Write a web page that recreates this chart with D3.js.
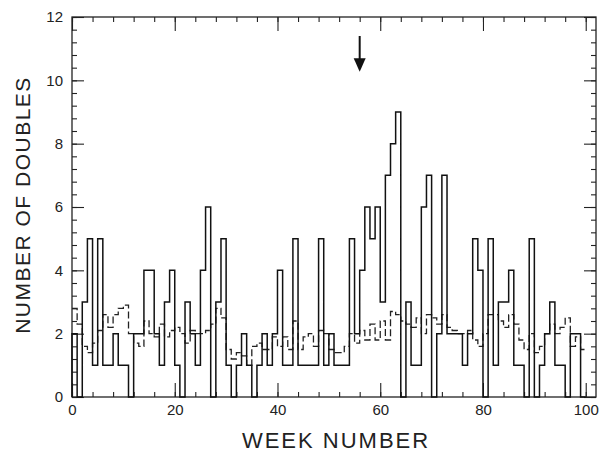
<!DOCTYPE html>
<html>
<head>
<meta charset="utf-8">
<script src="https://cdn.jsdelivr.net/npm/d3@7"></script>
<style>
  body { margin: 0; background: #fff; }
  text { font-family: "Liberation Sans", Arial, sans-serif; fill: #222; }
</style>
</head>
<body>
<svg id="chart" width="600" height="460"></svg>
<script>
// weekly number of doubles (solid) and expected level (dashed), one bin per week
const doubles = [
  2, 0, 3, 5, 1, 5, 1, 1, 2, 1, 1, 0, 2, 2, 4, 4, 2, 1, 3, 4,
  1, 0, 3, 2, 1, 4, 6, 0, 3, 5, 1, 0, 1, 2, 1, 0, 1, 2, 1, 2,
  4, 1, 1, 5, 1, 1, 1, 1, 5, 1, 2, 1, 1, 1, 5, 2, 4, 6, 5, 6,
  3, 7, 8, 9, 0, 3, 1, 1, 6, 7, 0, 2, 7, 2, 2, 2, 1, 2, 5, 4,
  0, 5, 1, 3, 3, 4, 1, 1, 0, 5, 0, 1, 2, 3, 1, 1, 0, 2, 2, 0
];
const expected = [
  2.8, 2.3, 1.6, 1.4, 1.7, 2.1, 2.6, 2.2, 2.6, 2.8,
  2.9, 2.0, 1.7, 1.6, 2.4, 2.0, 1.9, 2.3, 1.9, 2.1,
  2.2, 2.0, 1.7, 2.1, 2.0, 2.0, 2.1, 2.3, 2.8, 2.5,
  1.5, 1.2, 1.4, 1.3, 1.0, 1.6, 1.7, 1.5, 1.5, 1.9,
  1.6, 1.9, 1.5, 2.4, 1.5, 1.9, 2.0, 1.6, 2.1, 2.0,
  1.5, 1.4, 1.4, 1.6, 2.0, 1.7, 2.1, 1.8, 2.3, 1.8,
  2.4, 1.8, 2.7, 2.6, 2.4, 2.3, 2.2, 2.5, 2.0, 2.6,
  2.5, 2.3, 2.6, 2.2, 2.1, 2.0, 2.0, 2.1, 1.8, 1.6,
  2.0, 2.6, 2.6, 2.4, 2.2, 2.6, 2.3, 1.8, 1.5, 2.0,
  1.4, 1.6, 2.0, 2.3, 2.0, 2.2, 2.5, 1.6, 1.9, 1.5
];
const xTicks = [0, 20, 40, 60, 80, 100];
const yTicks = [0, 2, 4, 6, 8, 10, 12];
const arrowWeek = 56;

const svg = d3.select('#chart');
const margin = {left: 72, right: 4, top: 17, bot: 63};
const width = 600, height = 460;

let x = d3.scaleLinear().domain([0, 102]).range([margin.left, width - margin.right]);
let y = d3.scaleLinear().domain([0, 12]).range([height - margin.bot, margin.top]);

// tick helpers
function addAxis(axis, tx, ty, labels) {
  let g = svg.append('g')
    .attr('transform', `translate(${tx},${ty})`)
    .call(axis);
  g.select('.domain').remove();
  g.selectAll('line').attr('stroke', '#222').attr('stroke-width', 1.1);
  if (labels) {
    g.selectAll('text').style('font-size', '15px').attr('fill', '#222');
  } else {
    g.selectAll('text').remove();
  }
  return g;
}

const xMinor = d3.range(0, 101, 4);
const yMinor = d3.range(0, 12.01, 0.4);

addAxis(d3.axisBottom(x).tickValues(xMinor).tickSize(-5), 0, y(0), false);
addAxis(d3.axisTop(x).tickValues(xMinor).tickSize(-5), 0, y(12), false);
addAxis(d3.axisBottom(x).tickValues(xTicks).tickSize(-14).tickPadding(7), 0, y(0), true);
addAxis(d3.axisTop(x).tickValues(xTicks).tickSize(-14), 0, y(12), false);

addAxis(d3.axisLeft(y).tickValues(yMinor).tickSize(-5), x(0), 0, false);
addAxis(d3.axisRight(y).tickValues(yMinor).tickSize(-5), x(102), 0, false);
addAxis(d3.axisLeft(y).tickValues(yTicks).tickSize(-12).tickPadding(9), x(0), 0, true);
addAxis(d3.axisRight(y).tickValues(yTicks).tickSize(-12), x(102), 0, false);

// frame
svg.append('rect')
  .attr('x', x(0)).attr('y', y(12))
  .attr('width', x(102) - x(0)).attr('height', y(0) - y(12))
  .attr('fill', 'none').attr('stroke', '#222').attr('stroke-width', 1.3);

// step outline: each bin gives two points
function steps(values, startAtZero) {
  let pts = [];
  if (startAtZero) pts.push([0, 0]);
  values.forEach((v, i) => {
    pts.push([i, v]);
    pts.push([i + 1, v]);
  });
  if (startAtZero) pts.push([values.length, 0]);
  return pts;
}

let line = d3.line()
  .x(d => x(d[0]))
  .y(d => y(d[1]));

svg.append('path')
  .datum(steps(expected, false))
  .attr('d', line)
  .attr('fill', 'none')
  .attr('stroke', '#222')
  .attr('stroke-width', 1.3)
  .attr('stroke-dasharray', '7,3');

svg.append('path')
  .datum(steps(doubles, true))
  .attr('d', line)
  .attr('fill', 'none')
  .attr('stroke', '#111')
  .attr('stroke-width', 1.5);

// arrow marking week 56
svg.append('line')
  .attr('x1', x(arrowWeek)).attr('x2', x(arrowWeek))
  .attr('y1', y(11.4)).attr('y2', y(10.6))
  .attr('stroke', '#111').attr('stroke-width', 2);
svg.append('path')
  .attr('d', `M${x(arrowWeek) - 6},${y(10.7)} L${x(arrowWeek) + 6},${y(10.7)} L${x(arrowWeek)},${y(10.27)} Z`)
  .attr('fill', '#111');

// axis titles
svg.append('text')
  .attr('x', (x(0) + x(102)) / 2 + 2)
  .attr('y', 448)
  .attr('text-anchor', 'middle')
  .style('font-size', '22px')
  .style('letter-spacing', '2px')
  .text('WEEK NUMBER');
svg.append('text')
  .attr('transform', 'rotate(-90)')
  .attr('x', -205)
  .attr('y', 30)
  .attr('text-anchor', 'middle')
  .style('font-size', '21px')
  .style('letter-spacing', '1.5px')
  .text('NUMBER OF DOUBLES');
</script>
</body>
</html>
